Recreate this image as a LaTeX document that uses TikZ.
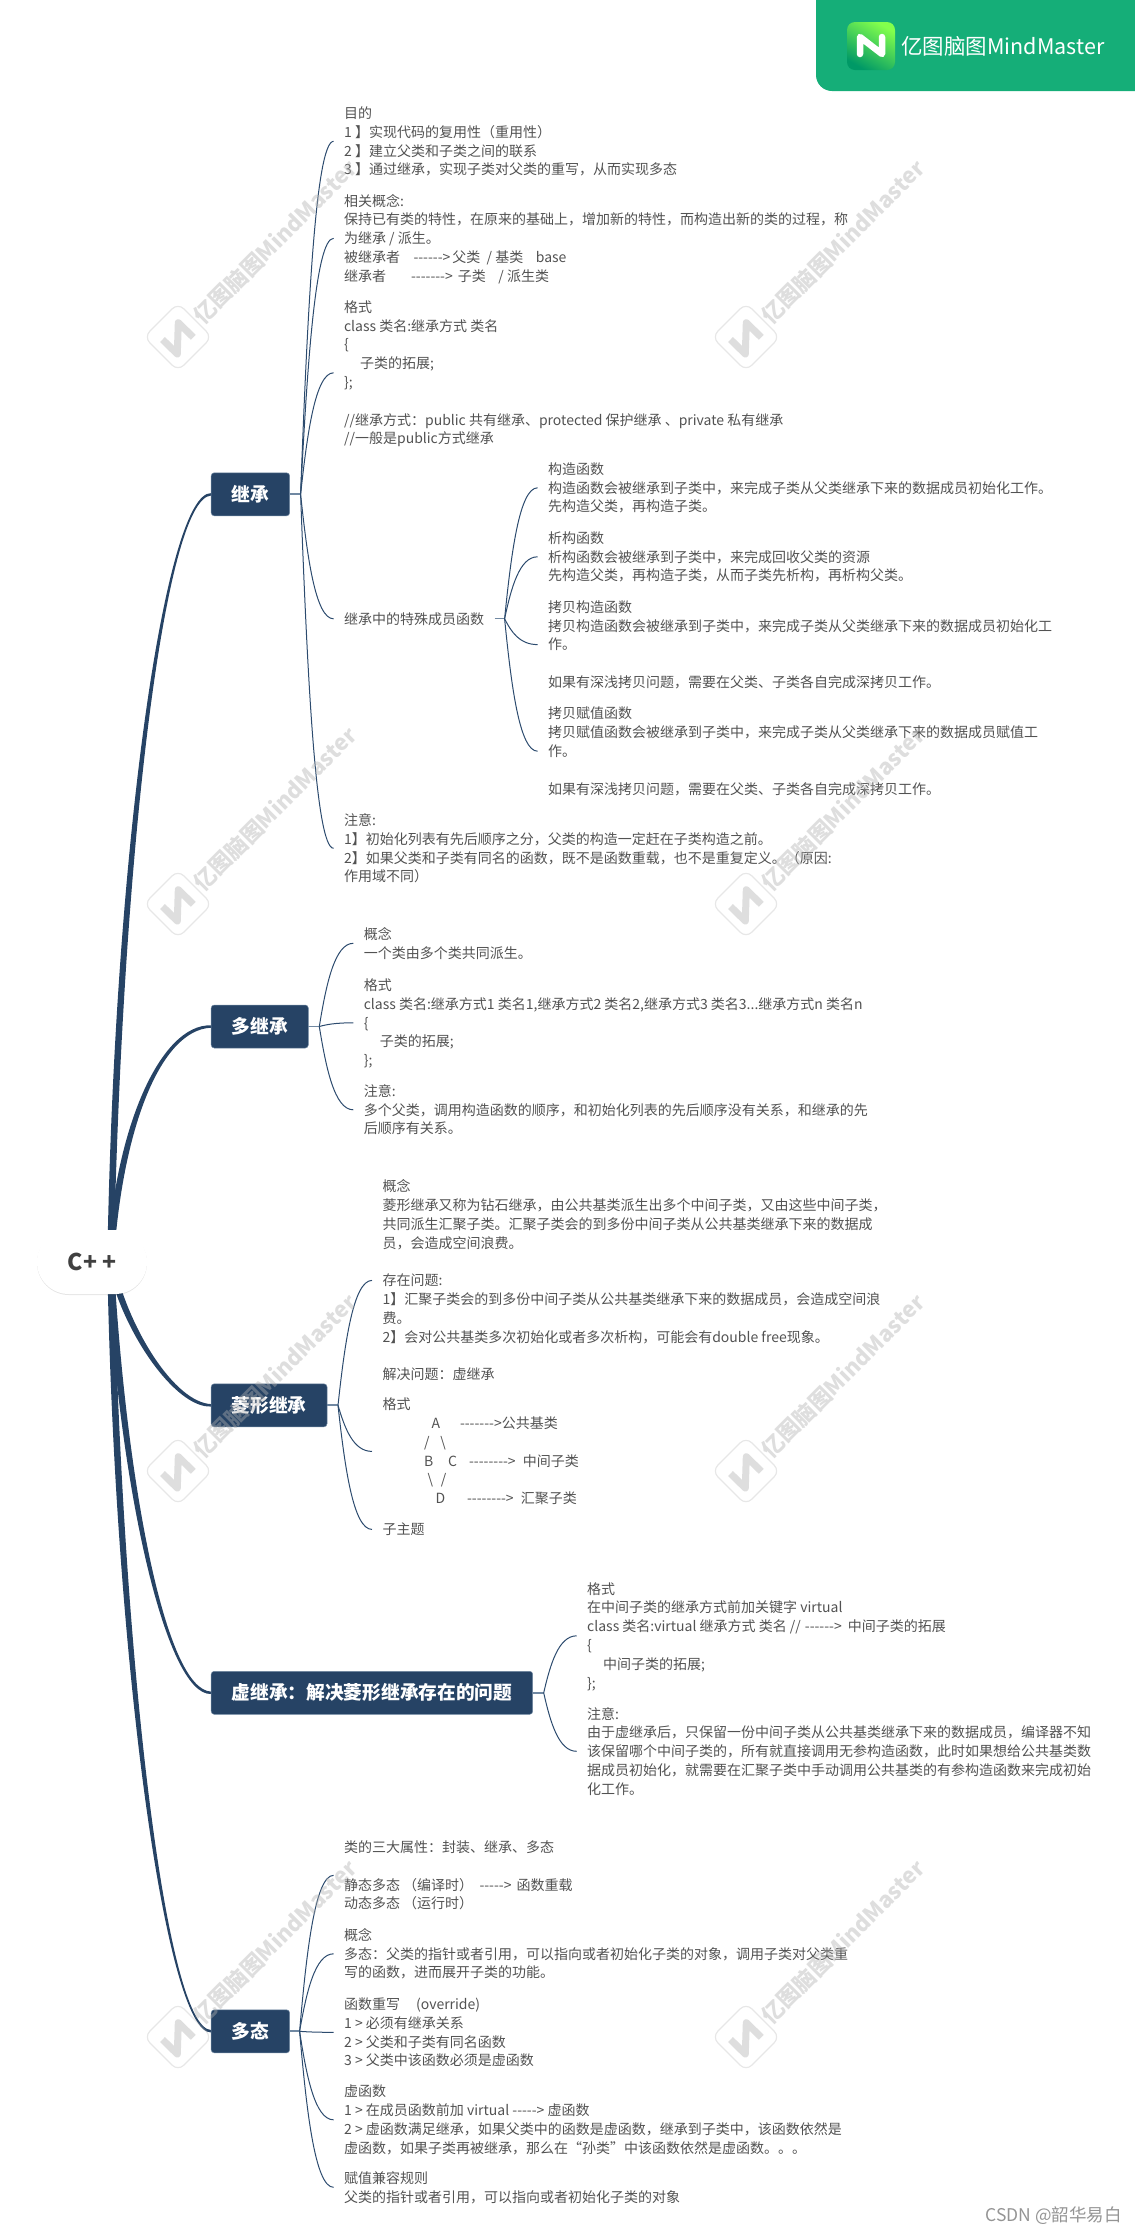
\documentclass[tikz,border=0pt]{standalone}
\usepackage{fontspec}
\usetikzlibrary{positioning,calc,backgrounds,shadows}

\newfontfamily\cnfont{Noto Sans CJK SC}

\definecolor{topicblue}{HTML}{264365}
\definecolor{topicedge}{HTML}{6F87A1}
\definecolor{linkblue}{HTML}{2C4B6E}
\definecolor{stubblue}{HTML}{7088A2}
\definecolor{leafgray}{HTML}{525252}
\definecolor{rootgray}{HTML}{404040}
\definecolor{stampgray}{HTML}{B0B0B0}
\definecolor{badgegreen}{HTML}{15AE78}

\newcommand{\leafstrut}{\rule[-4.05pt]{0pt}{18.8pt}}

% thick tapered branch from the hub to a main topic
\newcommand{\trunkline}[4]{%
    \fill[topicblue] ([xshift=-3.2pt]hub)
        .. controls ([xshift=-4pt]#2) and ([yshift=2.5*(#4)]#3) .. ([yshift=#4]#1.west)
        -- ([yshift=-1*(#4)]#1.west)
        .. controls ([yshift=-2.5*(#4)]#3) and ([xshift=4pt]#2) .. ([xshift=3.2pt]hub)
        -- cycle;
}

% grey stamp laid over the picture
\newcommand{\markstamp}[3]{%
    \node[stampicon] (#1icon) at (#2,#3) {};
    \draw[stampline] ($(#1icon)+(-15.5,2.5)$) -- ($(#1icon)+(-0.7,17)$)
        -- ($(#1icon)+(0.3,-14.3)$) -- ($(#1icon)+(15.3,0.3)$);
    \node[stamptext] (#1text) at ($(#1icon)+(97,-95)$) {亿图脑图MindMaster};
}

\begin{document}
\begin{tikzpicture}[
    x=1pt,
    y=-1pt,
    rootnode/.style={
        rectangle,
        rounded corners=32pt,
        minimum width=110pt,
        minimum height=64pt,
        inner sep=0pt,
        fill=white,
        text=rootgray,
        font=\cnfont\bfseries\fontsize{23}{26}\selectfont,
        drop shadow={shadow xshift=0pt, shadow yshift=-1pt, opacity=.1, fill=black}
    },
    topic/.style={
        rectangle,
        rounded corners=3pt,
        minimum height=43pt,
        inner xsep=20.5pt,
        inner ysep=0pt,
        outer sep=0pt,
        fill=topicblue,
        draw=topicedge,
        line width=.5pt,
        text=white,
        font=\cnfont\bfseries\fontsize{18.7}{22}\selectfont
    },
    leaf/.style={
        rectangle,
        inner xsep=10.5pt,
        inner ysep=0pt,
        outer sep=0pt,
        align=left,
        text=leafgray,
        font=\cnfont\fontsize{14}{18.8}\selectfont,
        execute at end node=\leafstrut
    },
    subline/.style={
        draw=linkblue,
        line width=1pt,
        to path={
            let \p1=(\tikztostart), \p2=(\tikztotarget) in
            .. controls ({\x1+.2*(\x2-\x1)},{\y1+.5*(\y2-\y1)}) and ({\x1+.45*(\x2-\x1)},\y2) .. (\tikztotarget)
        }
    },
    stubline/.style={draw=stubblue, line width=1.8pt},
    stampicon/.style={
        rectangle,
        rounded corners=8pt,
        minimum size=48pt,
        inner sep=0pt,
        rotate=45,
        draw=stampgray,
        line width=1.2pt,
        opacity=.3
    },
    stampline/.style={draw=stampgray, line width=7pt, line join=round, opacity=.42},
    stamptext/.style={
        rotate=45,
        inner sep=0pt,
        text=stampgray,
        text opacity=.42,
        font=\cnfont\bfseries\fontsize{22}{26}\selectfont
    }
]

\useasboundingbox (0,0) rectangle (1135,2231);

% badge at the top
\fill[badgegreen] (816,0) [rounded corners=16pt] -- (816,91) [sharp corners] -- (1135,91) -- (1135,0) -- cycle;
\node[rectangle, rounded corners=8pt, minimum size=48pt, inner sep=0pt, top color=green!60!lime!70!white, bottom color=teal!80!green, shading angle=-30] (badgeicon) at (871,46) {};
\draw[white, line width=6.5pt, line join=round, line cap=round] (860,54) -- (860,37) -- (882,54) -- (882,37);
\node[right=6pt of badgeicon, inner sep=0pt, text=white, font=\cnfont\fontsize{21.5}{26}\selectfont] (badgetext) {亿图脑图MindMaster};

% root and main topics
\node[rootnode] (root) at (92,1262) {C+ +};
\coordinate[right=18.5pt of root.center] (hub);

\node[topic, above right=714pt and 64pt of root.north east] (jc) {继承};
\node[topic, below right=489.2pt and 0pt of jc.south west] (dj) {多继承};
\node[topic, below right=335.8pt and 0pt of dj.south west] (lx) {菱形继承};
\node[topic, below right=244.5pt and 0pt of lx.south west] (xj) {虚继承：解决菱形继承存在的问题};
\node[topic, below right=295.5pt and 0pt of xj.south west] (dt) {多态};

\coordinate[right=11pt of jc.east] (jcfork);
\coordinate[right=11pt of dj.east] (djfork);
\coordinate[right=11pt of lx.east] (lxfork);
\coordinate[right=11pt of xj.east] (xjfork);
\coordinate[right=10pt of dt.east] (dtfork);

% children of the first topic
\node[leaf, above right=293.9pt and 44pt of jc.north east] (mudi) {\leafstrut 目的\\1 】实现代码的复用性（重用性）\\2 】建立父类和子类之间的联系\\3 】通过继承，实现子类对父类的重写，从而实现多态};
\node[leaf, below right=12.4pt and 0pt of mudi.south west] (xiangguan) {\leafstrut 相关概念:\\保持已有类的特性，在原来的基础上，增加新的特性，而构造出新的类的过程，称\\为继承 / 派生。\\被继承者~~~\hspace{4pt}------>\hspace{2pt}父类~~/~基类~~~~base\\继承者\hspace{25pt}------->\hspace{5pt}子类~~~~/~派生类};
\node[leaf, below right=12.3pt and 0pt of xiangguan.south west] (geshi) {\leafstrut 格式\\class 类名:继承方式 类名\\\{\\\hspace*{16pt}子类的拓展;\\\};\\ \\//继承方式：public 共有继承、protected 保护继承 、private 私有继承\\//一般是public方式继承};
\node[leaf, below right=161.4pt and 0pt of geshi.south west] (teshu) {\leafstrut 继承中的特殊成员函数};
\coordinate[right=10pt of teshu.east] (teshufork);
\node[leaf, below right=11.6pt and 204pt of geshi.south west] (gouzao) {\leafstrut 构造函数\\构造函数会被继承到子类中，来完成子类从父类继承下来的数据成员初始化工作。\\先构造父类，再构造子类。};
\node[leaf, below right=12.6pt and 0pt of gouzao.south west] (xigou) {\leafstrut 析构函数\\析构函数会被继承到子类中，来完成回收父类的资源\\先构造父类，再构造子类，从而子类先析构，再析构父类。};
\node[leaf, below right=12.6pt and 0pt of xigou.south west] (kaobei) {\leafstrut 拷贝构造函数\\拷贝构造函数会被继承到子类中，来完成子类从父类继承下来的数据成员初始化工\\作。\\ \\如果有深浅拷贝问题，需要在父类、子类各自完成深拷贝工作。};
\node[leaf, below right=12.6pt and 0pt of kaobei.south west] (fuzhi) {\leafstrut 拷贝赋值函数\\拷贝赋值函数会被继承到子类中，来完成子类从父类继承下来的数据成员赋值工\\作。\\ \\如果有深浅拷贝问题，需要在父类、子类各自完成深拷贝工作。};
\node[leaf, below right=182.5pt and 0pt of teshu.south west] (zhuyi) {\leafstrut 注意:\\1】初始化列表有先后顺序之分，父类的构造一定赶在子类构造之前。\\2】如果父类和子类有同名的函数，既不是函数重载，也不是重复定义。（原因:\\作用域不同）};

% children of the second topic
\node[leaf, above right=42.9pt and 45pt of dj.north east] (djgainian) {\leafstrut 概念\\一个类由多个类共同派生。};
\node[leaf, below right=13.7pt and 0pt of djgainian.south west] (djgeshi) {\leafstrut 格式\\class 类名:继承方式1 类名1,继承方式2 类名2,继承方式3 类名3...继承方式n 类名n\\\{\\\hspace*{16pt}子类的拓展;\\\};};
\node[leaf, below right=11.8pt and 0pt of djgeshi.south west] (djzhuyi) {\leafstrut 注意:\\多个父类，调用构造函数的顺序，和初始化列表的先后顺序没有关系，和继承的先\\后顺序有关系。};

% children of the third topic
\node[leaf, above right=0pt and 45pt of lx.north east] (lxgainian) {\leafstrut 概念\\菱形继承又称为钻石继承，由公共基类派生出多个中间子类，又由这些中间子类，\\共同派生汇聚子类。汇聚子类会的到多份中间子类从公共基类继承下来的数据成\\员，会造成空间浪费。\\ \\存在问题:\\1】汇聚子类会的到多份中间子类从公共基类继承下来的数据成员，会造成空间浪\\费。\\2】会对公共基类多次初始化或者多次析构，可能会有double free现象。\\ \\解决问题：虚继承};
\node[leaf, below right=11.2pt and 0pt of lxgainian.south west] (lxgeshi) {\leafstrut 格式\\\hspace*{49pt}A\hspace{20pt}------->公共基类\\\hspace*{41.5pt}/\hspace{11pt}\textbackslash\\\hspace*{41.5pt}B\hspace{15pt}C\hspace{12pt}-------->\hspace{7pt}中间子类\\\hspace*{45pt}\textbackslash\hspace{8pt}/\\\hspace*{53pt}D\hspace{22pt}-------->\hspace{7pt}汇聚子类};
\node[leaf, below right=12.2pt and 0pt of lxgeshi.south west] (lxzizhuti) {\leafstrut 子主题};

% children of the fourth topic
\node[leaf, above right=.6pt and 44pt of xj.east] (xjgeshi) {\leafstrut 格式\\在中间子类的继承方式前加关键字 virtual\\class 类名:virtual 继承方式 类名 //\hspace{4pt}------>\hspace{6pt}中间子类的拓展\\\{\\\hspace*{16pt}中间子类的拓展;\\\};};
\node[leaf, below right=12.1pt and 0pt of xjgeshi.south west] (xjzhuyi) {\leafstrut 注意:\\由于虚继承后，只保留一份中间子类从公共基类继承下来的数据成员，编译器不知\\该保留哪个中间子类的，所有就直接调用无参构造函数，此时如果想给公共基类数\\据成员初始化，就需要在汇聚子类中手动调用公共基类的有参构造函数来完成初始\\化工作。};

% children of the fifth topic
\node[leaf, above right=96.9pt and 44pt of dt.north east] (dtshuxing) {\leafstrut 类的三大属性：封装、继承、多态\\ \\静态多态~（编译时）~~----->\hspace{5pt}函数重载\\动态多态~（运行时）};
\node[leaf, below right=12.7pt and 0pt of dtshuxing.south west] (dtgainian) {\leafstrut 概念\\多态：父类的指针或者引用，可以指向或者初始化子类的对象，调用子类对父类重\\写的函数，进而展开子类的功能。};
\node[leaf, below right=12.7pt and 0pt of dtgainian.south west] (dtchongxie) {\leafstrut 函数重写\hspace{16pt}(override)\\1 > 必须有继承关系\\2 > 父类和子类有同名函数\\3 > 父类中该函数必须是虚函数};
\node[leaf, below right=12.3pt and 0pt of dtchongxie.south west] (dtxuhanshu) {\leafstrut 虚函数\\1 > 在成员函数前加 virtual -----> 虚函数\\2 > 虚函数满足继承，如果父类中的函数是虚函数，继承到子类中，该函数依然是\\虚函数，如果子类再被继承，那么在“孙类”中该函数依然是虚函数。。。};
\node[leaf, below right=11.1pt and 0pt of dtxuhanshu.south west] (dtjianrong) {\leafstrut 赋值兼容规则\\父类的指针或者引用，可以指向或者初始化子类的对象};

\node[above left=6pt and 13pt of current bounding box.south east, inner sep=0pt, text=black!42, font=\cnfont\fontsize{17.5}{20}\selectfont] (csdn) {CSDN @韶华易白};

% thick branches under the root
\begin{scope}[on background layer]
\trunkline{jc}{118,850}{165,494.5}{1.2pt}
\trunkline{dj}{118,1130}{160,1026.7}{1.2pt}
\trunkline{lx}{125,1330}{175,1405.5}{-1.2pt}
\trunkline{xj}{122,1480}{165,1693}{-1.2pt}
\trunkline{dt}{118,1650}{165,2031.5}{-1.2pt}
\end{scope}

% thin lines
\draw[stubline] (jc.east) -- (jcfork);
\draw[stubline] (dj.east) -- (djfork);
\draw[stubline] (lx.east) -- (lxfork);
\draw[stubline] (xj.east) -- (xjfork);
\draw[stubline] (dt.east) -- (dtfork);
\draw[stubline, line width=1.2pt] (teshu.east) -- (teshufork);

\draw[subline] (jcfork) to (mudi.west);
\draw[subline] (jcfork) to (xiangguan.west);
\draw[subline] (jcfork) to (geshi.west);
\draw[subline] (jcfork) to (teshu.west);
\draw[subline] (jcfork) to (zhuyi.west);
\draw[subline] (teshufork) to (gouzao.west);
\draw[subline] (teshufork) to (xigou.west);
\draw[subline] (teshufork) to (kaobei.west);
\draw[subline] (teshufork) to (fuzhi.west);
\draw[subline] (djfork) to (djgainian.west);
\draw[subline] (djfork) to (djgeshi.west);
\draw[subline] (djfork) to (djzhuyi.west);
\draw[subline] (lxfork) to (lxgainian.west);
\draw[subline] (lxfork) to (lxgeshi.west);
\draw[subline] (lxfork) to (lxzizhuti.west);
\draw[subline] (xjfork) to (xjgeshi.west);
\draw[subline] (xjfork) to (xjzhuyi.west);
\draw[subline] (dtfork) to (dtshuxing.west);
\draw[subline] (dtfork) to (dtgainian.west);
\draw[subline] (dtfork) to (dtchongxie.west);
\draw[subline] (dtfork) to (dtxuhanshu.west);
\draw[subline] (dtfork) to (dtjianrong.west);

% stamps last, they lie over everything
\markstamp{aa}{178}{337}
\markstamp{ab}{746}{337}
\markstamp{ba}{178}{904}
\markstamp{bb}{746}{904}
\markstamp{ca}{178}{1471}
\markstamp{cb}{746}{1471}
\markstamp{da}{178}{2037}
\markstamp{db}{746}{2037}

\end{tikzpicture}
\end{document}
